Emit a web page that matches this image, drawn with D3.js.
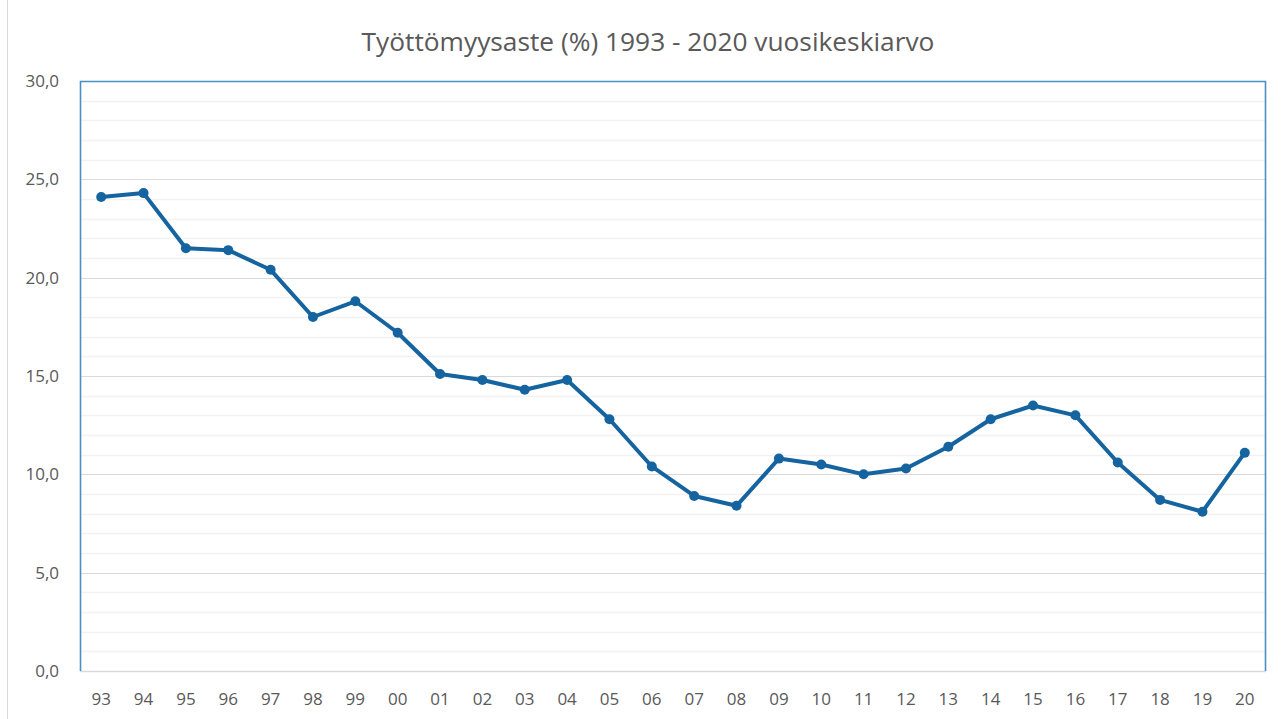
<!DOCTYPE html>
<html>
<head>
<meta charset="utf-8">
<script src="https://cdn.jsdelivr.net/npm/d3@7"></script>
<style>
  body { margin: 0; background: #fff; }
  text { font-family: "Open Sans", sans-serif; fill: #595959; }
</style>
</head>
<body>
<svg id="chart" width="1285" height="719"></svg>
<script>
var years = ["93", "94", "95", "96", "97", "98", "99", "00", "01", "02", "03", "04", "05", "06",
  "07", "08", "09", "10", "11", "12", "13", "14", "15", "16", "17", "18", "19", "20"];
var rate = [24.1, 24.3, 21.5, 21.4, 20.4, 18.0, 18.8, 17.2, 15.1, 14.8, 14.3, 14.8, 12.8, 10.4,
  8.9, 8.4, 10.8, 10.5, 10.0, 10.3, 11.4, 12.8, 13.5, 13.0, 10.6, 8.7, 8.1, 11.1];
var yTicks = [0, 5, 10, 15, 20, 25, 30];
var title = "Työttömyysaste (%) 1993 - 2020 vuosikeskiarvo";

var data = years.map((y, i) => ({ year: y, value: rate[i] }));

var svg = d3.select("#chart"),
  margin = { top: 81, right: 19, bottom: 48, left: 80 },
  width = +svg.attr("width"),
  height = +svg.attr("height");

// chart area border
svg.append("rect")
  .attr("x", 7.5).attr("y", -2)
  .attr("width", width + 10).attr("height", height + 10)
  .attr("fill", "none").attr("stroke", "#d9d9d9");

var x = d3.scaleBand()
  .domain(years)
  .range([margin.left, width - margin.right]);

var y = d3.scaleLinear()
  .domain([0, 30])
  .range([height - margin.bottom, margin.top]);

// minor gridlines
svg.append("g")
  .selectAll("line")
  .data(d3.range(1, 30).filter(v => v % 5 != 0))
  .join("line")
  .attr("x1", margin.left).attr("x2", width - margin.right)
  .attr("y1", d => Math.round(y(d)) + 0.5).attr("y2", d => Math.round(y(d)) + 0.5)
  .attr("stroke", "#f2f2f2").attr("stroke-width", 1.5);

// major gridlines
svg.append("g")
  .selectAll("line")
  .data(yTicks.slice(1, -1))
  .join("line")
  .attr("x1", margin.left).attr("x2", width - margin.right)
  .attr("y1", d => Math.round(y(d)) + 0.5).attr("y2", d => Math.round(y(d)) + 0.5)
  .attr("stroke", "#d9d9d9").attr("stroke-width", 1.2);

// x axis line
svg.append("line")
  .attr("x1", margin.left).attr("x2", width - margin.right)
  .attr("y1", y(0) + 0.5).attr("y2", y(0) + 0.5)
  .attr("stroke", "#d9d9d9").attr("stroke-width", 1.5);

// plot area border (top, left, right)
svg.append("path")
  .attr("d", "M" + (margin.left + 0.5) + "," + y(0) +
    "V" + (y(30) + 0.5) + "H" + (width - margin.right - 0.5) + "V" + y(0))
  .attr("fill", "none").attr("stroke", "#4a8fc2").attr("stroke-width", 1.6);

// y axis labels
svg.append("g")
  .attr("class", "y-axis")
  .attr("transform", "translate(" + (margin.left - 18) + ",0)")
  .call(d3.axisLeft(y).tickValues(yTicks).tickSize(0).tickFormat(d => d3.format(".1f")(d).replace(".", ",")))
  .call(g => g.select(".domain").remove())
  .selectAll("text")
  .attr("font-size", 17)
  .attr("font-family", "Open Sans, sans-serif")
  .style("fill", "#595959");

// x axis labels
svg.append("g")
  .attr("class", "x-axis")
  .attr("transform", "translate(0," + (y(0) + 19) + ")")
  .call(d3.axisBottom(x).tickSize(0))
  .call(g => g.select(".domain").remove())
  .selectAll("text")
  .attr("font-size", 17)
  .attr("font-family", "Open Sans, sans-serif")
  .style("fill", "#595959");

var line = d3.line()
  .x(d => x(d.year) + x.bandwidth() / 2)
  .y(d => y(d.value));

svg.append("path")
  .datum(data)
  .attr("fill", "none")
  .attr("stroke", "#15649f")
  .attr("stroke-width", 4)
  .attr("stroke-linejoin", "round")
  .attr("d", line);

svg.append("g")
  .selectAll("circle")
  .data(data)
  .join("circle")
  .attr("cx", d => x(d.year) + x.bandwidth() / 2)
  .attr("cy", d => y(d.value))
  .attr("r", 5)
  .attr("fill", "#15649f");

svg.append("text")
  .attr("x", 648)
  .attr("y", 51)
  .attr("text-anchor", "middle")
  .attr("font-size", 26.3)
  .text(title);
</script>
</body>
</html>
